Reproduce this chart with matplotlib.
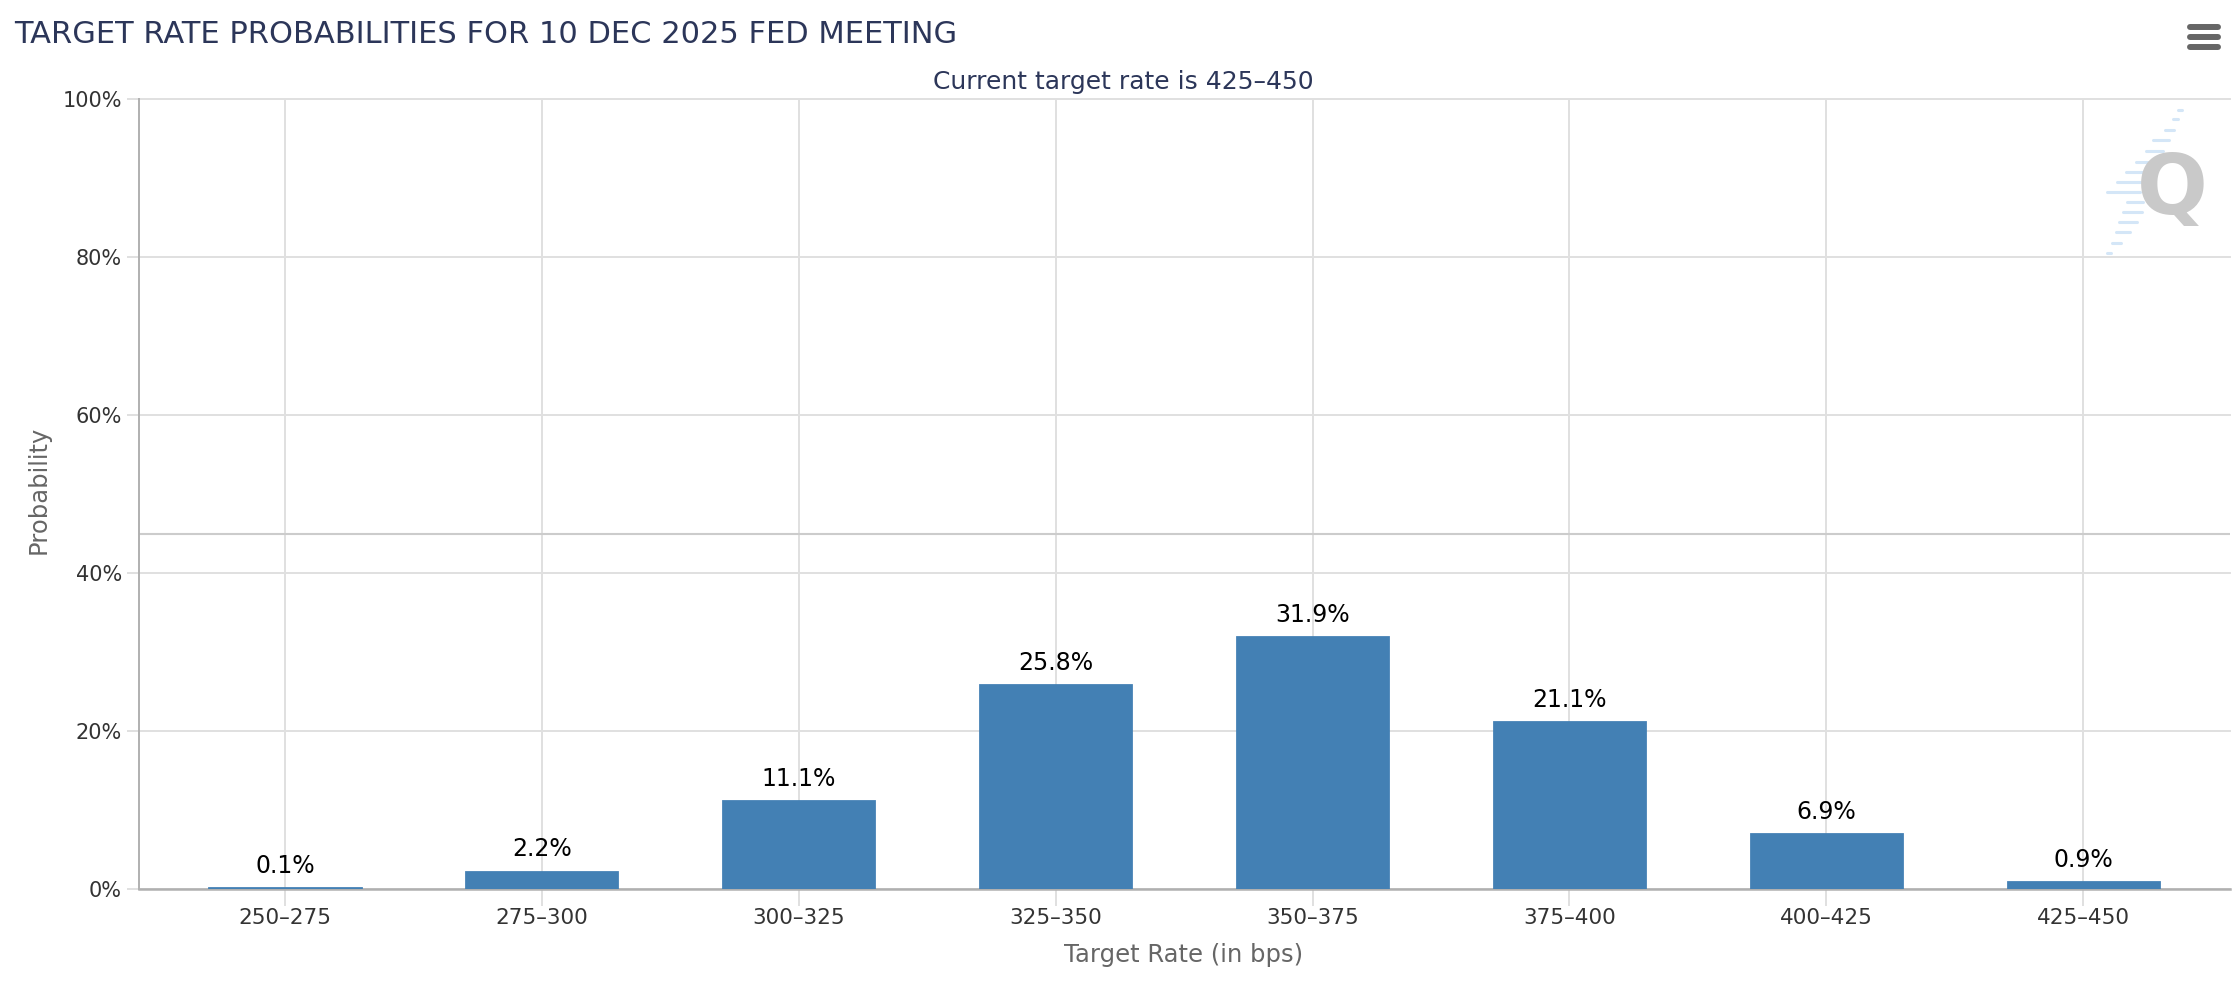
import matplotlib.pyplot as plt
from matplotlib.lines import Line2D

categories = ['250–275', '275–300', '300–325', '325–350',
              '350–375', '375–400', '400–425', '425–450']
probs = [0.1, 2.2, 11.1, 25.8, 31.9, 21.1, 6.9, 0.9]
y_ticks = [0, 20, 40, 60, 80, 100]
band_line = 45.0  # the darker horizontal rule seen across the plot

title = 'TARGET RATE PROBABILITIES FOR 10 DEC 2025 FED MEETING'
subtitle = 'Current target rate is 425–450'

W, H = 2238, 992
fig = plt.figure(figsize=(W / 100, H / 100), dpi=100)
ax = fig.add_axes([139 / W, 1 - 889 / H, (2230 - 139) / W, (889 - 99) / H])

x = list(range(len(categories)))
ax.bar(x, probs, width=0.589, color='#4380b4', edgecolor='#4380b4',
       linewidth=2, zorder=2)
for xi, p in zip(x, probs):
    ax.annotate(f'{p:.1f}%', (xi, p), xytext=(0, 11), textcoords='offset points',
                ha='center', va='baseline', fontsize=17, color='black', zorder=4)

ax.set_xlim(-0.568, 7.571)
ax.set_ylim(0, 100)
ax.set_yticks(y_ticks)
ax.set_yticklabels([f'{v}%' for v in y_ticks])
ax.set_xticks(x)
ax.set_xticklabels(categories)

ax.grid(True, color='#e0e0e0', lw=1.4)
ax.set_axisbelow(True)
for gl in ax.get_ygridlines():
    gl.set_clip_on(False)
ax.axhline(band_line, color='#cccccc', lw=1.5, zorder=1)

for side in ('top', 'right'):
    ax.spines[side].set_visible(False)
ax.spines['left'].set_color('#b0b0b0')
ax.spines['left'].set_linewidth(1.4)
ax.spines['bottom'].set_color('#b0b0b0')
ax.spines['bottom'].set_linewidth(1.8)
ax.spines['bottom'].set_zorder(1.8)

ax.tick_params(axis='y', length=8.6, width=1.4, color='#e0e0e0', pad=3.6,
               labelsize=15, labelcolor='#333333')
ax.tick_params(axis='x', length=12, width=1.4, color='#e0e0e0', pad=2,
               labelsize=15.5, labelcolor='#333333')

fig.text(14 / W, 1 - 43 / H, title, fontsize=22, color='#2c3659',
         ha='left', va='baseline')
fig.text(1123 / W, 1 - 89 / H, subtitle, fontsize=18, color='#2c3659',
         ha='center', va='baseline')
fig.text(1184 / W, 1 - 962 / H, 'Target Rate (in bps)', fontsize=17.5,
         color='#666666', ha='center', va='baseline')
fig.text(39 / W, 1 - 490 / H, 'Probability', rotation=90, fontsize=17.5,
         color='#666666', ha='center', va='center')

# watermark logo (light blue streaks + grey Q)
streaks = [(110, 2178, 2182), (119, 2173, 2178), (130, 2165, 2174), (140, 2153, 2169),
           (151, 2146, 2163), (162, 2136, 2148), (172, 2126, 2144), (182, 2117, 2142),
           (192, 2107, 2140), (202, 2127, 2143), (212, 2123, 2142), (222, 2119, 2137),
           (232, 2116, 2130), (243, 2112, 2121), (253, 2107, 2111)]
for yy, x0, x1 in streaks:
    fig.add_artist(Line2D([x0 / W, x1 / W], [1 - yy / H] * 2, lw=2.2,
                          color='#d4e6f7', solid_capstyle='round'))
fig.text(2172 / W, 1 - 190 / H, 'Q', fontsize=60, fontweight='bold',
         color='#c9c9c9', ha='center', va='center')

# menu icon
for yy in (26.7, 36.7, 46.7):
    fig.add_artist(Line2D([2190 / W, 2218 / W], [1 - yy / H] * 2, lw=4.3,
                          color='#666666', solid_capstyle='round'))

fig.savefig('out.png', dpi=100)
